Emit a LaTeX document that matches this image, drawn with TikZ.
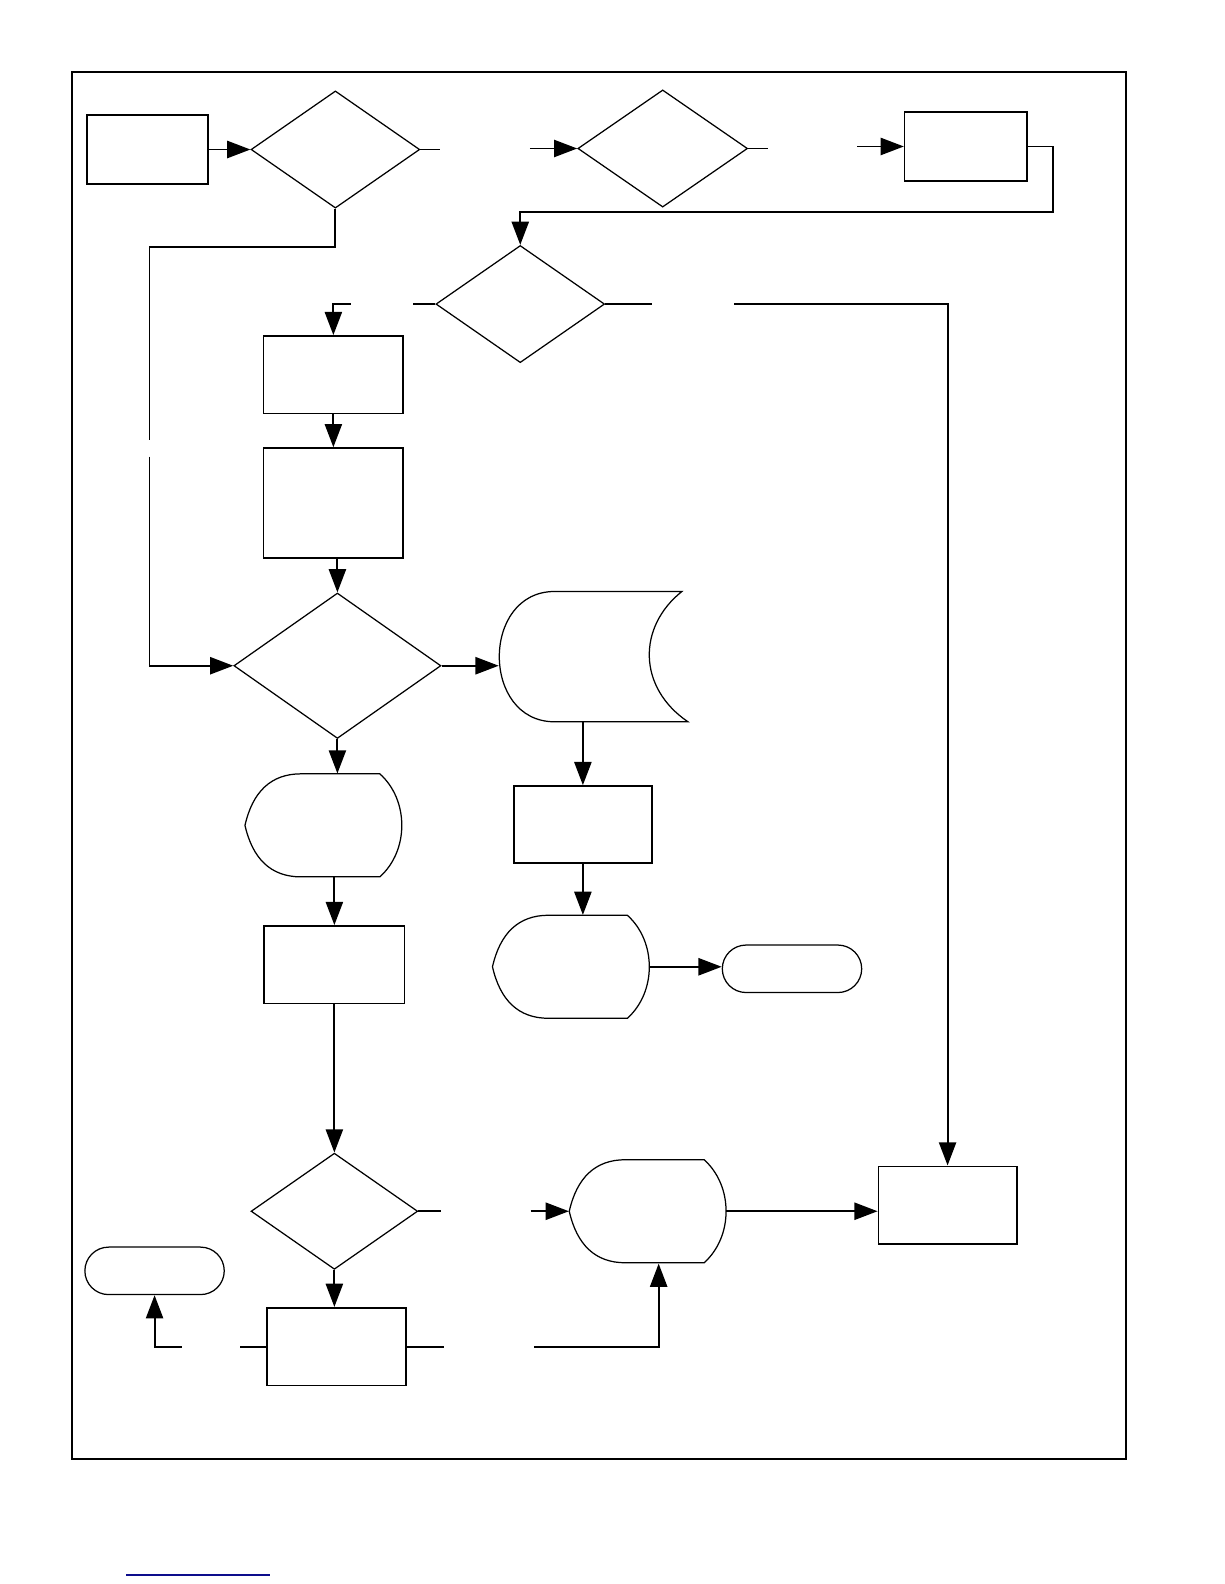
\documentclass[tikz,border=0pt]{standalone}
\usepackage{xcolor}
\usepackage{tikz}
\usetikzlibrary{shapes.geometric, arrows.meta, positioning, calc}
\definecolor{linkblue}{rgb}{0.05, 0.05, 0.55}
\tikzstyle{process} = [rectangle, draw=black, line width=0.9pt, inner sep=0pt, minimum width=2.76cm, minimum height=1.54cm]
\tikzstyle{decision} = [diamond, draw=black, line width=0.7pt, inner sep=0pt, minimum width=3.34cm, minimum height=2.32cm]
\tikzstyle{terminal} = [rectangle, rounded corners=0.47cm, draw=black, line width=0.7pt, inner sep=0pt, minimum width=2.76cm, minimum height=0.94cm]
\tikzstyle{shapebox} = [rectangle, inner sep=0pt, minimum width=3.1cm, minimum height=2.04cm]
\tikzstyle{shapeline} = [draw=black, line width=0.7pt]
\tikzstyle{link} = [line width=1.1pt]
\tikzstyle{arrow} = [line width=1.1pt, -{Triangle[length=0.46cm, width=0.34cm]}]
% display symbol: pointed left side, round right side
\newcommand{\displayoutline}[1]{\draw[shapeline, shift={(#1.center)}] (-77.5,0) .. controls (-70,-33) and (-52,-51) .. (-22,-51) -- (56,-51) .. controls (85,-25) and (85,25) .. (56,51) -- (-22,51) .. controls (-52,51) and (-70,33) .. cycle;}
% stored data symbol
\newcommand{\storeoutline}[1]{\draw[shapeline, shift={(#1.center)}] (-39,-64.5) -- (87,-64.5) .. controls (43,-29.5) and (43,30.5) .. (93,64.5) -- (-39,64.5) .. controls (-112,64.5) and (-112,-64.5) .. cycle;}

\begin{document}
\begin{tikzpicture}[x=0.02cm, y=-0.02cm]
\useasboundingbox (0,0) rectangle (1212,1568);
\draw[line width=1.1pt] (71,71) rectangle (1115,1444);

% top row
\node[process, minimum width=2.4cm, minimum height=1.36cm] (begin) at (146,148) {};
\node[decision] (firsttest) at (332,148) {};
\node[decision, minimum width=3.36cm] (secondtest) at (656,147) {};
\node[process, minimum width=2.42cm, minimum height=1.36cm] (prepare) at (956,145) {};
\node[decision] (thirdtest) at (515,301) {};

% left column
\node[process] (stepone) at (330,371) {};
\node[process, minimum height=2.18cm] (steptwo) at (330,498) {};
\node[decision, minimum width=4.1cm, minimum height=2.88cm] (merge) at (334,659) {};
\node[shapebox] (showone) at (320,817) {};
\displayoutline{showone}
\node[process, minimum width=2.78cm] (stepthree) at (331,955) {};
\node[decision, minimum width=3.3cm, minimum height=2.3cm] (lasttest) at (331,1199) {};
\node[process] (stepfour) at (333,1333) {};
\node[terminal] (stopone) at (153,1258) {};

% right branch
\node[shapebox, minimum width=3.76cm, minimum height=2.58cm] (store) at (588,650) {};
\storeoutline{store}
\node[process, minimum width=2.74cm, minimum height=1.52cm] (readback) at (577,816) {};
\node[shapebox] (showtwo) at (565,957) {};
\displayoutline{showtwo}
\node[terminal] (stoptwo) at (784,959) {};
\node[shapebox, minimum height=2.06cm] (showthree) at (641,1199) {};
\displayoutline{showthree}
\node[process, minimum width=2.74cm] (report) at (938,1193) {};

% gaps left open in the connectors
\coordinate (gapa1) at ($(firsttest.east)+(19,0)$);
\coordinate (gapa2) at ($(secondtest.west)+(-47,0)$);
\coordinate (gapb1) at ($(secondtest.east)+(20,0)$);
\coordinate (gapb2) at ($(prepare.west)+(-46,0)$);
\coordinate (gapc1) at ($(thirdtest.west)+(-22,0)$);
\coordinate (gapc2) at (347,301);
\coordinate (gapd1) at ($(thirdtest.east)+(46,0)$);
\coordinate (gapd2) at (727,301);
\coordinate (gape1) at (148,436);
\coordinate (gape2) at (148,452);
\coordinate (gapf1) at ($(lasttest.east)+(22,0)$);
\coordinate (gapf2) at ($(showthree.west)+(-38,0)$);
\coordinate (gapg1) at ($(stepfour.west)+(-26,0)$);
\coordinate (gapg2) at (180,1333);
\coordinate (gaph1) at ($(stepfour.east)+(37,0)$);
\coordinate (gaph2) at (529,1333);

% connectors
\draw[arrow] (begin.east) -- (firsttest.west);
\draw[link] (firsttest.east) -- (gapa1);
\draw[arrow] (gapa2) -- (secondtest.west);
\draw[link] (secondtest.east) -- (gapb1);
\draw[arrow] (gapb2) -- (prepare.west);
\draw[arrow] (prepare.east) -- ++(25,0) |- ($(thirdtest.north)+(0,-33)$) -- (thirdtest.north);
\draw[link] (thirdtest.west) -- (gapc1);
\draw[arrow] (gapc2) -| (stepone.north);
\draw[link] (thirdtest.east) -- (gapd1);
\draw[arrow] (gapd2) -| (report.north);
\draw[arrow] (stepone.south) -- (steptwo.north);
\draw[arrow] (steptwo.south -| merge.north) -- (merge.north);
\draw[link] (firsttest.south) -- ++(0,38) -| (gape1);
\draw[arrow] (gape2) |- (merge.west);
\draw[arrow] (merge.east) -- (merge.east -| store.west);
\draw[arrow] (store.south -| readback.north) -- (readback.north);
\draw[arrow] (readback.south) -- (readback.south |- showtwo.north);
\draw[arrow] (showtwo.east) -- (showtwo.east -| stoptwo.west);
\draw[arrow] (merge.south) -- (merge.south |- showone.north);
\draw[arrow] (stepthree.north |- showone.south) -- (stepthree.north);
\draw[arrow] (stepthree.south) -- (lasttest.north);
\draw[link] (lasttest.east) -- (gapf1);
\draw[arrow] (gapf2) -- (showthree.west);
\draw[arrow] (showthree.east) -- (showthree.east -| report.west);
\draw[arrow] (lasttest.south) -- (lasttest.south |- stepfour.north);
\draw[link] (stepfour.west) -- (gapg1);
\draw[arrow] (gapg2) -| (stopone.south);
\draw[link] (stepfour.east) -- (gaph1);
\draw[arrow] (gaph2) -| ($(showthree.south)+(11,0)$);

\draw[linkblue, line width=1.1pt] (125,1559) -- (267,1559);
\end{tikzpicture}
\end{document}
